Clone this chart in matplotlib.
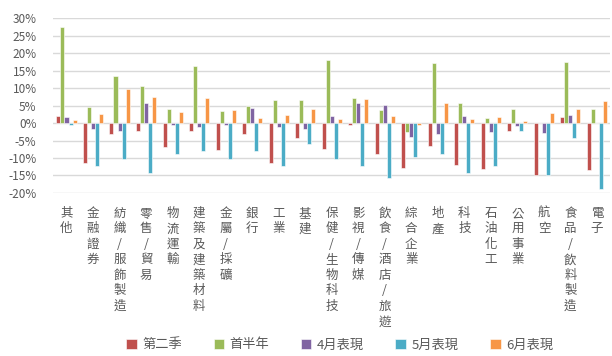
import numpy as np
import matplotlib
matplotlib.use("Agg")
import matplotlib.pyplot as plt
from matplotlib.ticker import FuncFormatter

plt.rcParams['font.family'] = ['Noto Sans CJK TC', 'DejaVu Sans']

sectors = ["其他", "金融證券", "紡織/服飾製造", "零售/貿易", "物流運輸",
           "建築及建築材料", "金屬/採礦", "銀行", "工業", "基建",
           "保健/生物科技", "影視/傳媒", "飲食/酒店/旅遊", "綜合企業", "地產",
           "科技", "石油化工", "公用事業", "航空", "食品/飲料製造", "電子"]

series_names = ["第二季", "首半年", "4月表現", "5月表現", "6月表現"]

# returns in %
q2 = [2.1, -11.5, -3.1, -2.3, -6.9, -2.2, -7.7, -3.0, -11.4, -4.2,
      -7.4, -0.7, -8.9, -12.9, -6.6, -12.1, -13.1, -2.4, -14.9, 1.6, -13.5]
h1 = [27.4, 4.5, 13.5, 10.5, 3.9, 16.4, 3.4, 5.0, 6.6, 6.6,
      18.0, 7.1, 3.6, -2.7, 17.1, 5.7, 1.5, 4.1, 0.0, 17.5, 4.1]
apr = [1.7, -1.7, -2.4, 5.7, -0.5, -1.0, -0.5, 4.2, -1.0, -1.7,
       2.0, 5.7, 5.3, -4.0, -3.0, 2.0, -2.6, -0.9, -2.8, 2.4, 0.0]
may = [-0.5, -12.3, -10.3, -14.2, -9.0, -8.0, -10.4, -8.1, -12.2, -6.1,
       -10.3, -12.2, -15.6, -9.6, -8.9, -14.2, -12.2, -2.3, -14.9, -4.3, -18.9]
jun = [1.0, 2.5, 9.7, 7.4, 3.1, 7.3, 3.8, 1.3, 2.2, 3.9,
       1.2, 6.9, 2.1, -0.5, 5.7, 1.1, 1.7, 0.7, 3.0, 4.0, 6.4]

colors = ["#C0504D", "#9BBB59", "#8064A2", "#4BACC6", "#F79646"]
grey = "#595959"

fig = plt.figure(figsize=(6.12, 3.56), dpi=100)
ax = fig.add_axes([0.087, 0.458, 0.91, 0.491])

x = np.arange(len(sectors))
width = 0.152
for i, (vals, c, name) in enumerate(zip([q2, h1, apr, may, jun], colors, series_names)):
    ax.bar(x + (i - 2) * width, vals, width, color=c, edgecolor="white",
           linewidth=0.4, label=name, zorder=3)

ax.set_ylim(-20, 30)
ax.set_yticks(np.arange(-20, 31, 5))
ax.yaxis.set_major_formatter(FuncFormatter(lambda v, _: f"{v:.0f}%"))
ax.set_xlim(-0.5, len(sectors) - 0.5)
ax.grid(axis="y", color="#D9D9D9", linewidth=1.0, zorder=0)
for s in ax.spines.values():
    s.set_visible(False)
ax.tick_params(axis="y", length=0, labelsize=8.5, colors=grey, pad=12)
ax.tick_params(axis="x", length=0, pad=10)

# one character per line for the vertical sector names
ax.set_xticks(x)
ax.set_xticklabels(["\n".join(s) for s in sectors], fontsize=9, color=grey,
                   va="top", linespacing=1.25)

leg = fig.legend(loc="center", bbox_to_anchor=(0.555, 0.031), ncol=5, frameon=False,
                 fontsize=9.5, handlelength=0.8, handleheight=0.8,
                 columnspacing=2.4, handletextpad=0.4)
for t in leg.get_texts():
    t.set_color(grey)

fig.savefig("out.png", dpi=100)
